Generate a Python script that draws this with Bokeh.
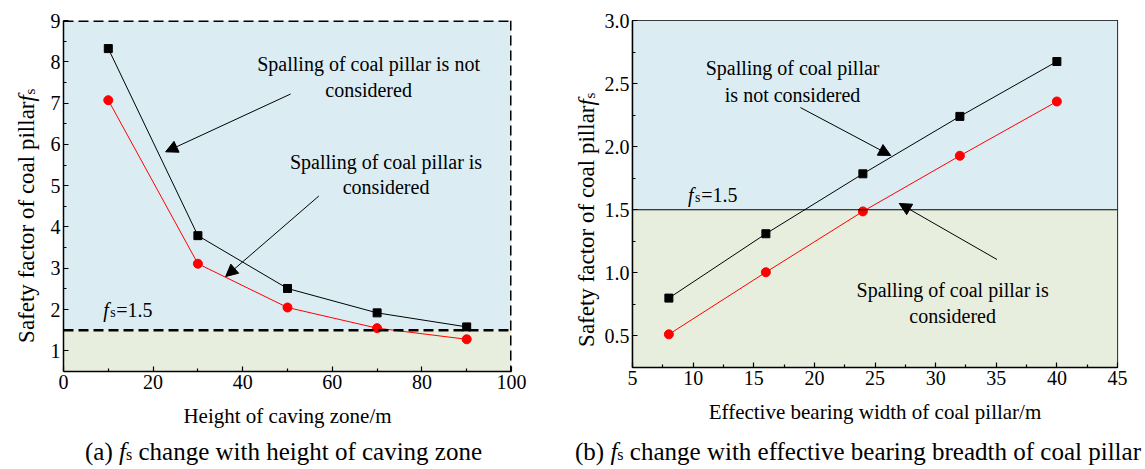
import numpy as np
from bokeh.plotting import figure
from bokeh.models import (Range1d, FixedTicker, Span, BoxAnnotation, Label,
                          Arrow, NormalHead, PrintfTickFormatter, Div)
from bokeh.layouts import row, column
from bokeh.embed import file_html
from bokeh.resources import INLINE

FONT = "Liberation Serif"
BLUE = "#dbedf3"
GREEN = "#e8eede"

# ---------------- data ----------------
height_caving = [10, 30, 50, 70, 90]
fs_not_a = [8.32, 3.79, 2.51, 1.92, 1.58]
fs_con_a = [7.07, 3.11, 2.05, 1.55, 1.28]

bearing_width = [8, 16, 24, 32, 40]
fs_not_b = [0.80, 1.31, 1.785, 2.24, 2.675]
fs_con_b = [0.513, 1.005, 1.487, 1.928, 2.358]

threshold = 1.5

xticks_a = [0, 20, 40, 60, 80, 100]
xminor_a = [10, 30, 50, 70, 90]
yticks_a = [1, 2, 3, 4, 5, 6, 7, 8, 9]
yminor_a = [1.5, 2.5, 3.5, 4.5, 5.5, 6.5, 7.5, 8.5]
xticks_b = [5, 10, 15, 20, 25, 30, 35, 40, 45]
xminor_b = [7.5, 12.5, 17.5, 22.5, 27.5, 32.5, 37.5, 42.5]
yticks_b = [0.5, 1.0, 1.5, 2.0, 2.5, 3.0]
yminor_b = [0.75, 1.25, 1.75, 2.25, 2.75]

txt_not_a = ["Spalling of coal pillar is not", "considered"]
txt_con_a = ["Spalling of coal pillar is", "considered"]
txt_not_b = ["Spalling of coal pillar", "is not considered"]
txt_con_b = ["Spalling of coal pillar is", "considered"]
ylabel = "Safety factor of coal pillar"
xlabel_a = "Height of caving zone/m"
xlabel_b = "Effective bearing width of coal pillar/m"
cap_a = ["(a)", "change with height of caving zone"]
cap_b = ["(b)", "change with effective bearing breadth of coal pillar"]


def style(p):
    p.grid.visible = False
    p.background_fill_color = "white"
    p.border_fill_color = "white"
    for ax in (p.xaxis[0], p.yaxis[0]):
        ax.major_label_text_font = FONT
        ax.major_label_text_font_size = "20px"
        ax.major_label_text_color = "black"
        ax.axis_line_color = "black"
        ax.axis_line_width = 1.5
        ax.major_tick_in = 5
        ax.major_tick_out = 0
        ax.minor_tick_in = 3
        ax.minor_tick_out = 0
        ax.major_tick_line_color = "black"
        ax.minor_tick_line_color = "black"
        ax.major_tick_line_width = 1.2
        ax.minor_tick_line_width = 1.2
        ax.major_label_standoff = 3
        ax.axis_label_text_font = FONT
        ax.axis_label_text_font_size = "21px"
        ax.axis_label_text_font_style = "normal"
        ax.axis_label_text_color = "black"
        ax.axis_label_standoff = 12


def lab(p, x, y, text, size="20px", align="center", baseline="middle",
        style="normal", angle=0):
    p.add_layout(Label(x=x, y=y, text=text, text_font=FONT, text_font_size=size,
                       text_align=align, text_baseline=baseline,
                       text_font_style=style, text_color="black", angle=angle))


def arrow(p, x0, y0, x1, y1):
    p.add_layout(Arrow(x_start=x0, y_start=y0, x_end=x1, y_end=y1,
                       line_color="black", line_width=1,
                       end=NormalHead(size=12, fill_color="black",
                                      line_color="black", line_width=1)))


def ylabel_fig(base_x, end_y):
    # narrow figure holding the rotated y-axis title; data units = pixels
    q = figure(frame_width=40, frame_height=435, min_border=0,
               x_range=Range1d(0, 40), y_range=Range1d(435, 0),
               output_backend="svg", toolbar_location=None)
    q.axis.visible = False
    q.grid.visible = False
    q.outline_line_color = None
    q.background_fill_color = "white"
    q.border_fill_color = "white"
    lab(q, base_x, end_y, ylabel, size="23px", align="right",
        baseline="alphabetic", angle=np.pi / 2)
    lab(q, base_x, end_y, "f", size="23px", align="left",
        baseline="alphabetic", style="italic", angle=np.pi / 2)
    lab(q, base_x + 3, end_y - 7, "s", size="15px", align="left",
        baseline="alphabetic", angle=np.pi / 2)
    return q


# ---------------- panel (a) ----------------
p1 = figure(frame_width=448, frame_height=351, min_border_left=23,
            min_border_right=49, min_border_top=20, min_border_bottom=64,
            x_range=Range1d(0, 100), y_range=Range1d(0.5, 9),
            output_backend="svg", toolbar_location=None)
style(p1)
p1.outline_line_color = None
p1.xaxis.ticker = FixedTicker(ticks=xticks_a, minor_ticks=xminor_a)
p1.yaxis.ticker = FixedTicker(ticks=yticks_a, minor_ticks=yminor_a)
p1.xaxis.axis_label = xlabel_a

p1.add_layout(BoxAnnotation(bottom=threshold, fill_color=BLUE, fill_alpha=1,
                            line_alpha=0, level="underlay"))
p1.add_layout(BoxAnnotation(top=threshold, fill_color=GREEN, fill_alpha=1,
                            line_alpha=0, level="underlay"))
p1.add_layout(Span(location=threshold, dimension="width", line_color="black",
                   line_width=2.5, line_dash="10 5"))
p1.add_layout(Span(location=9, dimension="width", line_color="black",
                   line_width=3, line_dash="10 5"))
p1.add_layout(Span(location=100, dimension="height", line_color="black",
                   line_width=3, line_dash="10 5"))

p1.line(height_caving, fs_not_a, line_color="black", line_width=1)
p1.scatter(height_caving, fs_not_a, marker="square", size=8,
           fill_color="black", line_color="black")
p1.line(height_caving, fs_con_a, line_color="#ff0000", line_width=1)
p1.scatter(height_caving, fs_con_a, marker="circle", size=9,
           fill_color="#ff0000", line_color="#ff0000")

lab(p1, 68.1, 7.95, txt_not_a[0])
lab(p1, 68.1, 7.31, txt_not_a[1])
lab(p1, 72.0, 5.57, txt_con_a[0])
lab(p1, 72.0, 4.96, txt_con_a[1])
arrow(p1, 50.7, 7.22, 22.8, 5.82)
arrow(p1, 57.0, 4.75, 36.2, 2.80)

lab(p1, 8.86, 2.0, "f", style="italic", align="left", baseline="alphabetic")
lab(p1, 10.45, 1.93, "s", size="14px", align="left", baseline="alphabetic")
lab(p1, 11.75, 2.0, "=1.5", align="left", baseline="alphabetic")

# ---------------- panel (b) ----------------
p2 = figure(frame_width=485, frame_height=347, min_border_left=32,
            min_border_right=23, min_border_top=20, min_border_bottom=68,
            x_range=Range1d(5, 45), y_range=Range1d(0.25, 3.0),
            output_backend="svg", toolbar_location=None)
style(p2)
p2.outline_line_color = "black"
p2.outline_line_width = 1.2
p2.outline_line_alpha = 1
p2.xaxis.ticker = FixedTicker(ticks=xticks_b, minor_ticks=xminor_b)
p2.yaxis.ticker = FixedTicker(ticks=yticks_b, minor_ticks=yminor_b)
p2.yaxis.formatter = PrintfTickFormatter(format="%.1f")
p2.xaxis.axis_label = xlabel_b

p2.add_layout(BoxAnnotation(bottom=threshold, fill_color=BLUE, fill_alpha=1,
                            line_alpha=0, level="underlay"))
p2.add_layout(BoxAnnotation(top=threshold, fill_color=GREEN, fill_alpha=1,
                            line_alpha=0, level="underlay"))
p2.add_layout(Span(location=threshold, dimension="width", line_color="black",
                   line_width=1.2))

p2.line(bearing_width, fs_not_b, line_color="black", line_width=1)
p2.scatter(bearing_width, fs_not_b, marker="square", size=8,
           fill_color="black", line_color="black")
p2.line(bearing_width, fs_con_b, line_color="#ff0000", line_width=1)
p2.scatter(bearing_width, fs_con_b, marker="circle", size=9,
           fill_color="#ff0000", line_color="#ff0000")

lab(p2, 18.2, 2.62, txt_not_b[0])
lab(p2, 18.2, 2.41, txt_not_b[1])
lab(p2, 31.4, 0.867, txt_con_b[0])
lab(p2, 31.4, 0.66, txt_con_b[1])
arrow(p2, 18.85, 2.31, 26.3, 1.93)
arrow(p2, 35.06, 1.106, 27.0, 1.55)

lab(p2, 9.58, 1.62, "f", style="italic", align="left", baseline="alphabetic")
lab(p2, 10.16, 1.597, "s", size="14px", align="left", baseline="alphabetic")
lab(p2, 10.66, 1.62, "=1.5", align="left", baseline="alphabetic")

# ---------------- y titles and captions ----------------
ya = ylabel_fig(26, 81)
yb = ylabel_fig(26, 85)

cap_style = {"font-family": FONT, "font-size": "25px", "text-align": "left",
             "line-height": "34px", "color": "black", "white-space": "nowrap"}


def caption(parts, w, indent):
    html = ("<div style='margin-left:%dpx'>" % indent + parts[0]
            + " <i>f</i><span style='font-size:16px'>s</span> "
            + parts[1] + "</div>")
    return Div(text=html, width=w, height=34, margin=0, styles=cap_style)


top = row(ya, p1, yb, p2, spacing=0)
bottom = row(caption(cap_a, 564, 85), caption(cap_b, 576, 11), spacing=0)
layout = column(top, bottom, spacing=0)
open("out.html", "w").write(file_html(layout, INLINE))
